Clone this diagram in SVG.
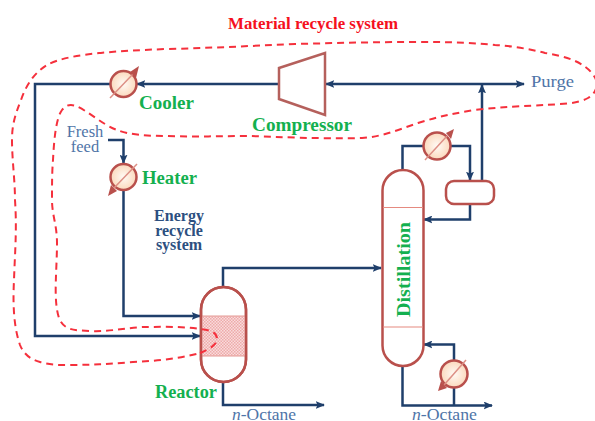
<svg xmlns="http://www.w3.org/2000/svg" width="595" height="421" viewBox="0 0 595 421">
<style>
.p{fill:none;stroke:#1f3f6b;stroke-width:2.500}
.e{fill:#fff;stroke:#b9504c;stroke-width:2.500}
.t{font-family:"Liberation Serif",serif;font-weight:bold;font-size:18px;fill:#14b04f}
.b{font-family:"Liberation Serif",serif;font-size:16.500px;fill:#4f75a8}
.k{font-family:"Liberation Serif",serif;font-weight:bold;font-size:16px;fill:#2c4f80;text-anchor:middle}
.x{fill:url(#hx);stroke:#b9504c;stroke-width:2.500}
.d{stroke:#dd8f85;stroke-width:1.500;fill:none}
.h{fill:#b9504c}
</style>
<defs>
<radialGradient id="hx"><stop offset="0" stop-color="#fffaf5"/><stop offset="1" stop-color="#fbd9bd"/></radialGradient>
<pattern id="pack" width="3" height="3" patternUnits="userSpaceOnUse"><rect width="3" height="3" fill="#f9dcdc"/><rect width="1.500" height="1.500" fill="#eeaaaa"/><rect x="1.500" y="1.500" width="1.500" height="1.500" fill="#eeaaaa"/></pattern>
<marker id="a" viewBox="0 0 10 10" refX="9" refY="5" markerWidth="3.700" markerHeight="3.200" orient="auto-start-reverse" preserveAspectRatio="none"><path d="M0 0L10 5L0 10L2 5Z" fill="#1f3f6b"/></marker>
</defs>
<g id="connectors">
<path class="p" d="M278 84H137" marker-end="url(#a)"/>
<path class="p" d="M110 84H35V336H200" marker-end="url(#a)"/>
<path class="p" d="M108 140H123.500V163" marker-end="url(#a)"/>
<path class="p" d="M123.500 190V316H200" marker-end="url(#a)"/>
<path class="p" d="M223 287V268H381" marker-end="url(#a)"/>
<path class="p" d="M223 382V405H324" marker-end="url(#a)"/>
<path class="p" d="M326 84H524" marker-start="url(#a)" marker-end="url(#a)"/>
<path class="p" d="M482 181V85" marker-end="url(#a)"/>
<path class="p" d="M402.500 170V146H424"/>
<path class="p" d="M450 146H470V180" marker-end="url(#a)"/>
<path class="p" d="M470 204V219.500H424" marker-end="url(#a)"/>
<path class="p" d="M402.500 366V405.500H492" marker-end="url(#a)"/>
<path class="p" d="M454 388V405.500"/>
<path class="p" d="M454 360V344.500H424" marker-end="url(#a)"/>
</g>
<g id="compressor"><path d="M279 68L325 53V115L279 99Z" fill="#fff" stroke="#b5605c" stroke-width="2.500"/></g>
<g id="cooler"><circle class="x" cx="123.500" cy="84" r="13"/><path class="d" d="M110 98L133 74"/><path class="h" d="M130 72L139 66L136 78Z"/></g>
<g id="heater"><circle class="x" cx="123.500" cy="177" r="13"/><path class="d" d="M137 164L114 188"/><path class="h" d="M117 191L108 196L111 185Z"/></g>
<g id="condenser"><circle class="x" cx="437" cy="146" r="13.500"/><path class="d" d="M425 160L447 136"/><path class="h" d="M446 133L454 129L451 139Z"/></g>
<g id="reboiler"><circle class="x" cx="454" cy="374" r="13.500"/><path class="d" d="M466 360L444 385"/><path class="h" d="M447 388L438 391L441 381Z"/></g>
<g id="drum"><rect class="e" x="446" y="181" width="48" height="23" rx="8"/></g>
<g id="reactor">
<rect class="e" x="201" y="287" width="45" height="95" rx="22.500"/>
<rect x="202" y="316" width="43" height="40" fill="url(#pack)"/>
<path d="M202 316H245M202 356H245" stroke="#e59a95" stroke-width="1"/>
<rect x="201" y="287" width="45" height="95" rx="22.500" fill="none" stroke="#b9504c" stroke-width="2.500"/>
</g>
<g id="distillation">
<rect class="e" x="382.500" y="170" width="41" height="196" rx="20.500"/>
<path d="M383 207.500H423M383 327H423" stroke="#e58a80" stroke-width="1.200"/>
<text class="t" transform="translate(410 317) rotate(-90)" textLength="95" lengthAdjust="spacingAndGlyphs">Distillation</text>
</g>
<g id="recycle-boundary"><path fill="none" stroke="#f5303c" stroke-width="2" stroke-dasharray="7 5" d="M200 353C210 349 218 344 217 338C216 331 208 330 200 329C180 326 160 327 143 327C125 328 108 332 90 331C75 330 64 331 59 318C53 300 57 270 57 243C57 225 52 215 52 200C52 185 52 172 53 160C54 140 56 118 62 110C66 105 70 104 76 106C88 111 103 125 117 130C130 135 148 136 167 136C195 137 222 136 250 136C280 137 320 139 362 138C382 137 400 129 418 123C437 117 455 113 475 110C500 107 525 106 545 105C560 104 578 104 588 98C597 93 599 83 594 76C585 62 565 56 545 53C530 49 512 46 495 45C465 42 440 42 412 42C375 42 335 43 295 44C250 46 210 48 167 49C140 50 120 51 100 53C80 55 60 58 47 65C35 72 26 85 21 100C15 115 12 125 12 140C12 160 15 180 15 200C17 230 15 250 14 280C13 300 13 325 20 345C24 355 32 360 40 362C50 365 58 365 67 365C90 365 110 364 133 362C155 361 177 359 200 353"/></g>
<g id="labels">
<text x="228" y="29" class="t" style="fill:#f5101e;font-size:16px" textLength="170" lengthAdjust="spacingAndGlyphs">Material recycle system</text>
<text x="139" y="109" class="t" textLength="55" lengthAdjust="spacingAndGlyphs">Cooler</text>
<text x="142" y="184" class="t" textLength="55" lengthAdjust="spacingAndGlyphs">Heater</text>
<text x="252" y="131" class="t" textLength="100" lengthAdjust="spacingAndGlyphs">Compressor</text>
<text x="155" y="398" class="t" textLength="62" lengthAdjust="spacingAndGlyphs">Reactor</text>
<text class="k"><tspan x="179" y="221">Energy</tspan><tspan x="179" y="236">recycle</tspan><tspan x="179" y="250">system</tspan></text>
<text class="b" text-anchor="middle"><tspan x="85" y="137">Fresh</tspan><tspan x="85" y="152">feed</tspan></text>
<text x="531" y="87" class="b" textLength="43" lengthAdjust="spacingAndGlyphs">Purge</text>
<text x="232" y="420" class="b" textLength="64" lengthAdjust="spacingAndGlyphs"><tspan font-style="italic">n</tspan>-Octane</text>
<text x="412" y="420" class="b" textLength="65" lengthAdjust="spacingAndGlyphs"><tspan font-style="italic">n</tspan>-Octane</text>
</g>
</svg>
